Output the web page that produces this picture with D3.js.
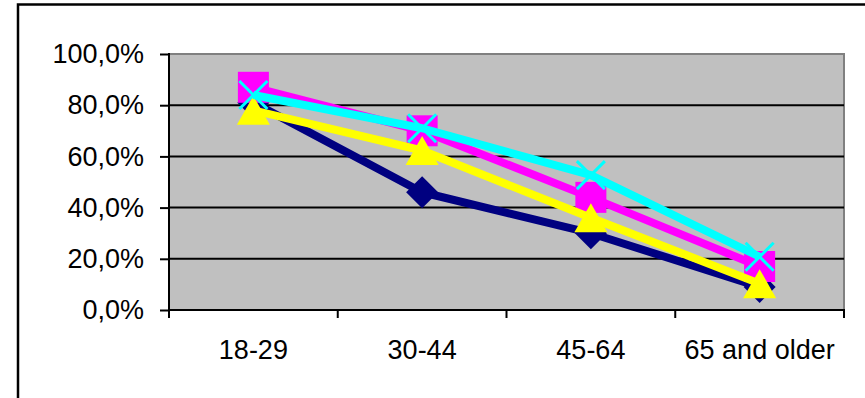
<!DOCTYPE html>
<html>
<head>
<meta charset="utf-8">
<script src="https://cdn.jsdelivr.net/npm/d3@7"></script>
<style>
  html, body { margin: 0; padding: 0; background: #fff; }
  svg { display: block; }
  text { font-family: "Liberation Sans", Arial, sans-serif; font-size: 27px; fill: #000; }
</style>
</head>
<body>
<svg id="chart" width="865" height="398"></svg>
<script>
// ---- data ----
const categories = ["18-29", "30-44", "45-64", "65 and older"];
const seriesNames = ["Series1", "Series2", "Series3", "Series4"];
const navyValues    = [81, 46, 30, 9];
const magentaValues = [87, 70, 44, 17];
const yellowValues  = [78, 62.3, 36, 10.3];
const cyanValues    = [84, 71, 52.7, 20.8];
const yTicks = [0, 20, 40, 60, 80, 100];

const series = [
  { name: seriesNames[0], values: navyValues,    color: "#000080", marker: "diamond" },
  { name: seriesNames[1], values: magentaValues, color: "#FF00FF", marker: "square" },
  { name: seriesNames[2], values: yellowValues,  color: "#FFFF00", marker: "triangle" },
  { name: seriesNames[3], values: cyanValues,    color: "#00FFFF", marker: "x" }
];

const svg = d3.select("#chart");
const plot = { left: 169, right: 844, top: 54, bottom: 310 };

// outer chart frame (clipped at right/bottom like reference)
svg.append("rect")
  .attr("x", 18).attr("y", 4.5)
  .attr("width", 900).attr("height", 500)
  .attr("fill", "none").attr("stroke", "#000").attr("stroke-width", 2.5);

const x = d3.scaleBand().domain(categories).range([plot.left, plot.right]).padding(0);
const y = d3.scaleLinear().domain([0, 100]).range([plot.bottom, plot.top]);
const cx = c => x(c) + x.bandwidth() / 2;

// plot area
svg.append("rect")
  .attr("x", plot.left).attr("y", plot.top)
  .attr("width", plot.right - plot.left).attr("height", plot.bottom - plot.top)
  .attr("fill", "#C0C0C0");

// plot area top/right border gray
svg.append("line").attr("x1", plot.left).attr("x2", plot.right + 1)
  .attr("y1", plot.top).attr("y2", plot.top)
  .attr("stroke", "#808080").attr("stroke-width", 2);
svg.append("line").attr("x1", plot.right).attr("x2", plot.right)
  .attr("y1", plot.top).attr("y2", plot.bottom)
  .attr("stroke", "#808080").attr("stroke-width", 2);

// gridlines
svg.append("g").selectAll("line").data(yTicks.filter(d => d > 0 && d < 100)).join("line")
  .attr("x1", plot.left).attr("x2", plot.right)
  .attr("y1", d => y(d)).attr("y2", d => y(d))
  .attr("stroke", "#000").attr("stroke-width", 2);

// y axis
const yAxis = d3.axisLeft(y).tickValues(yTicks)
  .tickFormat(d => d.toFixed(1).replace(".", ",") + "%")
  .tickSize(9).tickPadding(16);
const gy = svg.append("g").attr("transform", `translate(${plot.left},0)`).call(yAxis);
gy.select(".domain").remove();
gy.selectAll(".tick line").attr("stroke", "#000").attr("stroke-width", 2);
gy.selectAll(".tick text").attr("font-size", 27).attr("font-family", "Liberation Sans, Arial, sans-serif").attr("fill", "#000");
svg.append("line").attr("x1", plot.left).attr("x2", plot.left)
  .attr("y1", plot.top - 1).attr("y2", plot.bottom + 8)
  .attr("stroke", "#000").attr("stroke-width", 2);

// x axis line and boundary ticks
svg.append("line").attr("x1", plot.left).attr("x2", plot.right + 1)
  .attr("y1", plot.bottom).attr("y2", plot.bottom)
  .attr("stroke", "#000").attr("stroke-width", 2);
const bounds = categories.map(c => x(c)).concat([x.range()[1]]);
svg.append("g").selectAll("line").data(bounds).join("line")
  .attr("x1", d => d).attr("x2", d => d)
  .attr("y1", plot.bottom).attr("y2", plot.bottom + 8)
  .attr("stroke", "#000").attr("stroke-width", 2);

svg.append("g").selectAll("text").data(categories).join("text")
  .attr("x", d => cx(d)).attr("y", 359)
  .attr("text-anchor", "middle")
  .text(d => d);

// markers
function markerPath(type) {
  switch (type) {
    case "diamond": { const h = 16; return `M0,${-h}L${h},0L0,${h}L${-h},0Z`; }
    case "square":  { const s = 15.5; return `M${-s},${-s}H${s}V${s}H${-s}Z`; }
    case "triangle":{ const w = 16.5, hh = 14.5; return `M0,${-hh}L${w},${hh}L${-w},${hh}Z`; }
    case "x":       { const a = 14; return `M${-a},${-a}L${a},${a}M${a},${-a}L${-a},${a}`; }
  }
}

const line = d3.line().x((d, i) => cx(categories[i])).y(d => y(d));

series.forEach(s => {
  const g = svg.append("g");
  g.append("path").datum(s.values)
    .attr("d", line)
    .attr("fill", "none").attr("stroke", s.color)
    .attr("stroke-width", 8).attr("stroke-linejoin", "round");
  g.selectAll("path.m").data(s.values).join("path")
    .attr("class", "m")
    .attr("transform", (d, i) => `translate(${cx(categories[i])},${y(d)})`)
    .attr("d", markerPath(s.marker))
    .attr("fill", s.marker === "x" ? "none" : s.color)
    .attr("stroke", s.marker === "x" ? s.color : "none")
    .attr("stroke-width", 3);
});
</script>
</body>
</html>
